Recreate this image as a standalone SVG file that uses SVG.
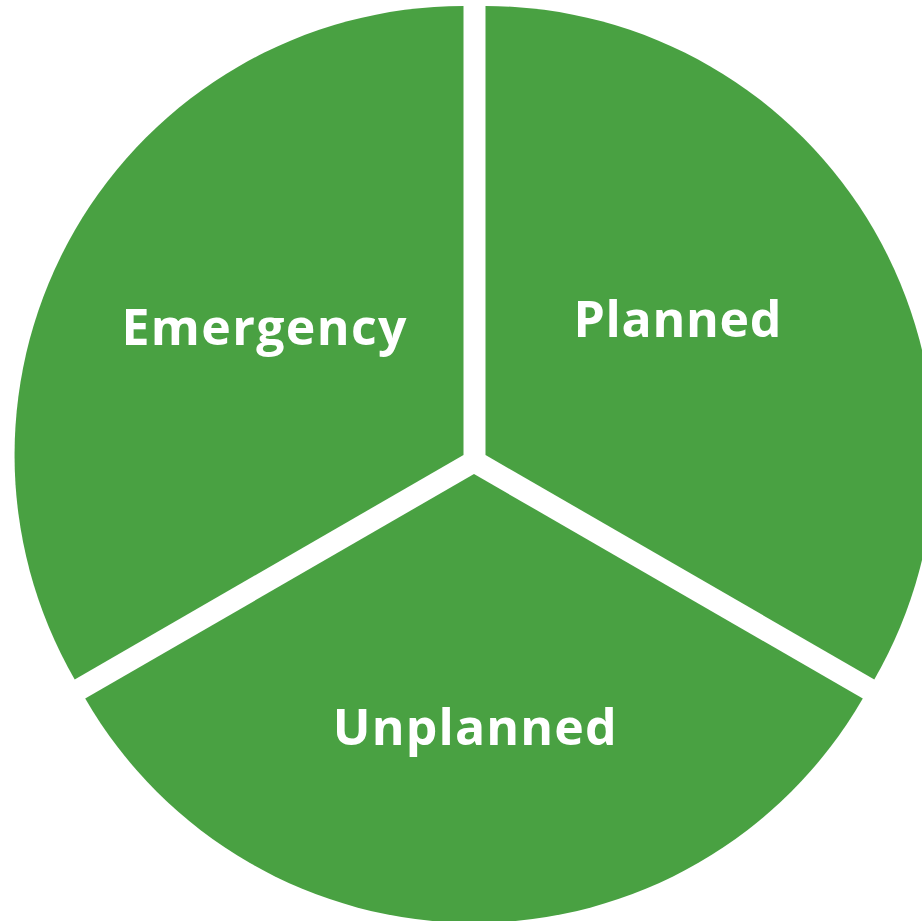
<svg xmlns="http://www.w3.org/2000/svg" width="922" height="921" viewBox="0 0 922 921">
<style>
.slice{fill:#49A142;stroke:none}
.lbl{font-family:"Open Sans","Noto Sans","Liberation Sans",sans-serif;font-weight:700;font-size:50px;fill:#FFFFFF;text-anchor:middle}
</style>
<rect x="0" y="0" width="922" height="921" fill="#FFFFFF"/>
<g id="emergency">
<path class="slice" d="M463.5,455 L463.5,6 A449,449 0 0 0 74.7,679.5 Z"/>
<text class="lbl" x="264" y="345" textLength="285" lengthAdjust="spacing">Emergency</text>
</g>
<g id="planned">
<path class="slice" d="M485.5,455 L485.5,6 A449,449 0 0 1 874.3,679.5 Z"/>
<text class="lbl" x="677.5" y="337" textLength="208" lengthAdjust="spacing">Planned</text>
</g>
<g id="unplanned">
<path class="slice" d="M474,474 L862.8,698.5 A449,449 0 0 1 85.2,698.5 Z"/>
<text class="lbl" x="474.7" y="745" textLength="284" lengthAdjust="spacing">Unplanned</text>
</g>
<g id="connectors"></g>
</svg>
